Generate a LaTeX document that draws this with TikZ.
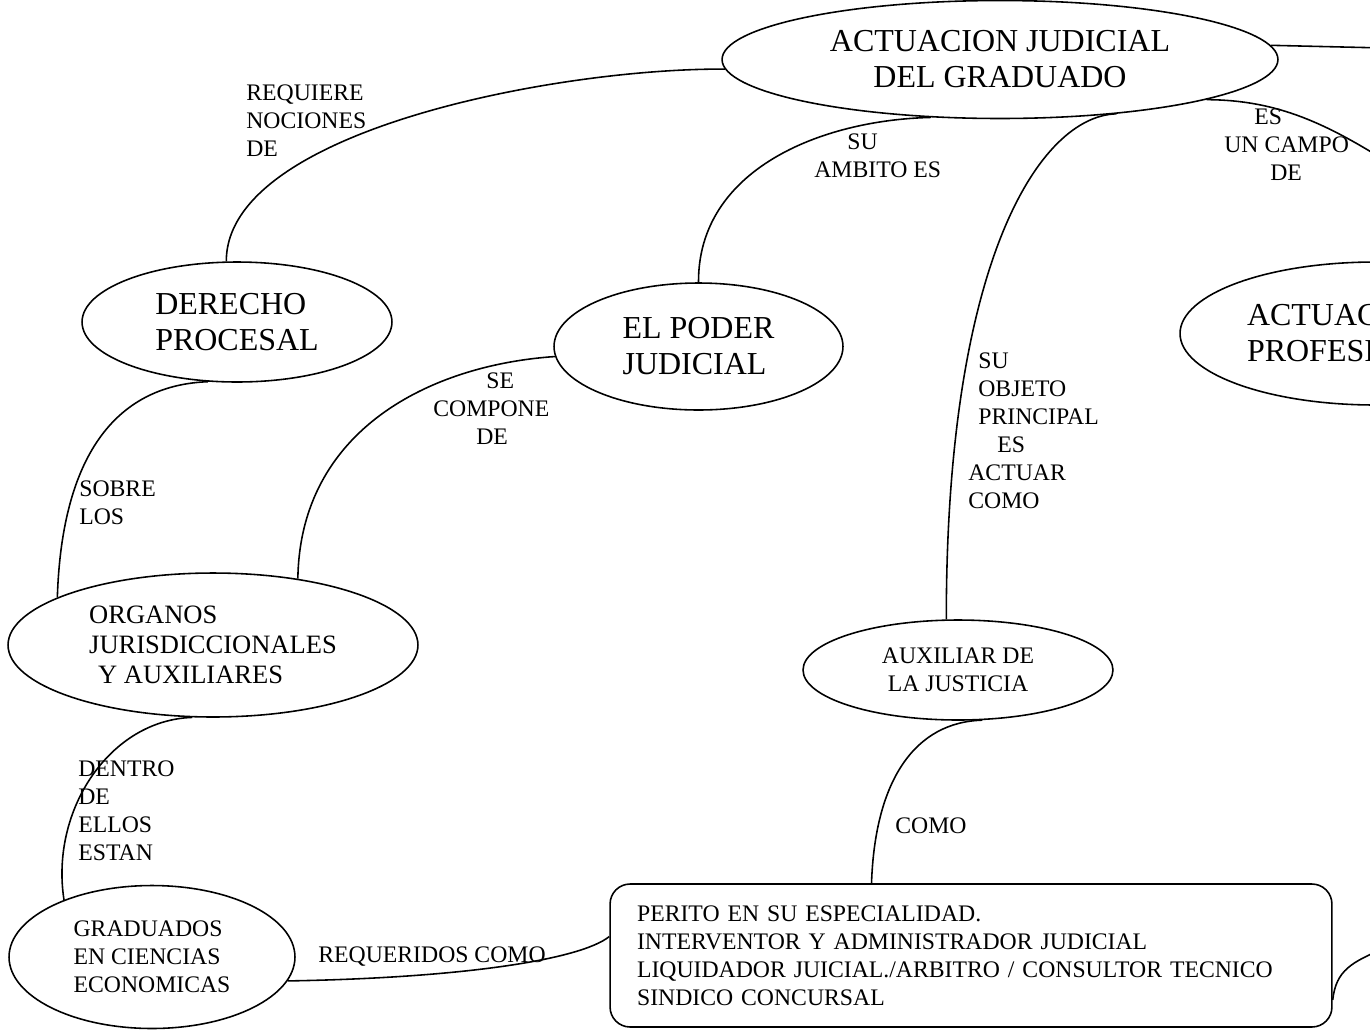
\documentclass[tikz,border=0pt]{standalone}
\usepackage{fontspec}
\setmainfont{Liberation Serif}
\usetikzlibrary{shapes,positioning}

\begin{document}
\begin{tikzpicture}[x=0.02cm,y=-0.02cm]
\tikzstyle{concept}=[ellipse, draw=black, line width=0.9pt, inner sep=0pt, align=left]
\tikzstyle{big}=[font=\fontsize{18.2}{20.5}\selectfont]
\tikzstyle{mid}=[font=\fontsize{15.1}{17.1}\selectfont]
\tikzstyle{small}=[font=\fontsize{13.5}{15.9}\selectfont]
\tikzstyle{lbl}=[small, align=left, inner sep=0pt, anchor=west]
\tikzstyle{connect}=[line width=0.9pt]
\useasboundingbox (0,0) rectangle (1370,1029);
	\node[concept,big,align=center,minimum width=11.12cm,minimum height=2.36cm] (act_jud) at (1000,59.5) {ACTUACION JUDICIAL\\DEL GRADUADO};
	\node[concept,big,minimum width=6.2cm,minimum height=2.4cm] (der_proc) at (237,322) {DERECHO\\PROCESAL};
	\node[concept,big,minimum width=5.78cm,minimum height=2.54cm] (poder) at (698.5,346.5) {EL PODER\\JUDICIAL};
	\node[concept,big,text width=5.12cm,minimum width=7.8cm,minimum height=2.86cm] (act_prof) at (1375,333.5) {ACTUAC\\PROFESI};
	\node[concept,mid,minimum width=8.2cm,minimum height=2.88cm] (organos) at (213,645) {ORGANOS\\JURISDICCIONALES\\\hspace*{0.18cm}Y AUXILIARES};
	\node[concept,small,align=center,minimum width=6.2cm,minimum height=2cm] (auxiliar) at (958,670) {AUXILIAR DE\\LA JUSTICIA};
	\node[concept,small,minimum width=5.72cm,minimum height=2.86cm] (graduados) at (152,957) {GRADUADOS\\EN CIENCIAS\\ECONOMICAS};
	\node[draw=black,line width=0.9pt,rounded corners=0.4cm,small,align=left,text width=13.36cm,inner xsep=0.54cm,inner ysep=0pt,minimum height=2.86cm] (perito) at (971,955.5) {PERITO EN SU ESPECIALIDAD.\\INTERVENTOR Y ADMINISTRADOR JUDICIAL\\LIQUIDADOR JUICIAL./ARBITRO / CONSULTOR TECNICO\\SINDICO CONCURSAL};

	\coordinate (r_1) at (1385,48);
	\coordinate (r_2) at (1400,170);
	\coordinate (r_3) at (1385,948);

	\node[lbl] (l_1) at (246,120.5) {REQUIERE\\NOCIONES\\DE};
	\node[lbl] (l_2) at (814,156) {\hspace*{0.66cm}SU\\AMBITO ES};
	\node[lbl] (l_3) at (968,430.5) {\hspace*{0.2cm}SU\\\hspace*{0.2cm}OBJETO\\\hspace*{0.2cm}PRINCIPAL\\\hspace*{0.58cm}ES\\ACTUAR\\COMO};
	\node[lbl] (l_4) at (1224,145) {\hspace*{0.6cm}ES\\UN CAMPO\\\hspace*{0.92cm}DE};
	\node[lbl] (l_5) at (433,409) {\hspace*{1.06cm}SE\\COMPONE\\\hspace*{0.86cm}DE};
	\node[lbl] (l_6) at (79,503) {SOBRE\\LOS};
	\node[lbl] (l_7) at (78,810.5) {DENTRO\\DE\\ELLOS\\ESTAN};
	\node[lbl] (l_8) at (895,826) {COMO};
	\node[lbl] (l_9) at (318,957) {REQUERIDOS COMO};

	\draw[connect] (act_jud.182) .. controls (560,68) and (226,130) .. (der_proc.100);
	\draw[connect] (act_jud.220) .. controls (820,120) and (698,170) .. (poder.north);
	\draw[connect] (act_jud.335) .. controls (1040,116) and (946,260) .. (auxiliar.103);
	\draw[connect] (act_jud.3) -- (r_1);
	\draw[connect] (act_jud.349) .. controls (1280,100) and (1330,125) .. (r_2);
	\draw[connect] (der_proc.244) .. controls (120,385) and (62,450) .. (organos.163);
	\draw[connect] (poder.184) .. controls (430,365) and (300,430) .. (organos.38);
	\draw[connect] (organos.254) .. controls (110,720) and (50,810) .. (graduados.147);
	\draw[connect] (auxiliar.296) .. controls (915,722) and (875,780) .. (perito.144);
	\draw[connect] (graduados.350) .. controls (460,978) and (580,960) .. (perito.177);
	\draw[connect] (perito.353) .. controls (1336,970) and (1352,962) .. (r_3);
\end{tikzpicture}
\end{document}
